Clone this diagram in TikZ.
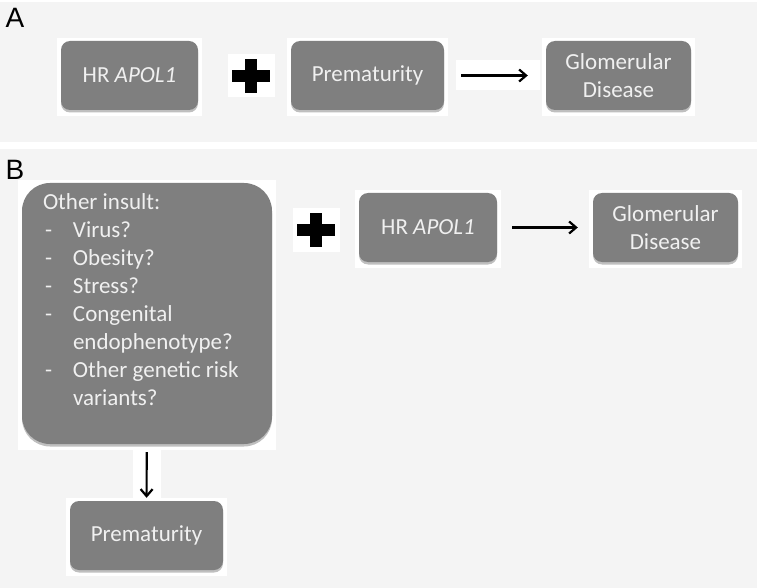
\documentclass[tikz,border=0pt]{standalone}
\usepackage{fontspec}
\setmainfont{Carlito}
\newfontfamily\panelfont{Liberation Sans}
\usepackage{xcolor}
\usetikzlibrary{arrows,arrows.meta,positioning,backgrounds}

\definecolor{boxgray}{HTML}{7F7F7F}
\definecolor{panelgray}{HTML}{F4F4F4}

\begin{document}
\begin{tikzpicture}[x=1pt, y=-1pt,
    box/.style={rounded corners=9pt, fill=boxgray, text=white!94!black, align=center,
      font=\fontsize{23}{28}\selectfont, inner sep=0pt, minimum height=69pt,
      preaction={fill=black, opacity=.25, transform canvas={yshift=-2.5pt}}},
    plussign/.style={fill=white, inner sep=0pt, minimum width=47pt, minimum height=43pt,
      path picture={
        \fill[black] ([xshift=-19pt,yshift=-6pt]path picture bounding box.center)
          rectangle ([xshift=19pt,yshift=6pt]path picture bounding box.center);
        \fill[black] ([xshift=-6pt,yshift=-17pt]path picture bounding box.center)
          rectangle ([xshift=6pt,yshift=17pt]path picture bounding box.center);}},
    panellabel/.style={font=\panelfont\fontsize{28}{28}\selectfont, inner sep=0pt},
    descr/.style={-{Straight Barb[length=7pt,width=12pt]}, line width=2.2pt}
  ]
  \useasboundingbox (0,0) rectangle (760,588);

  % panel A
  \node[panellabel] (labA) at (15,18) {A};
  \node[box, minimum width=137pt] (hrA) at (129.5,75.5) {HR \textit{APOL1}};
  \node[plussign] (plusA) at (251,76) {};
  \node[box, minimum width=153pt] (premA) at (367.5,75.5) {Prematurity};
  \node[box, minimum width=145pt] (glomA) at (618.5,75.5) {Glomerular\\Disease};

  \path[descr]
  (premA) edge[shorten <=17pt, shorten >=18pt] (glomA)
  ;

  % panel B
  \node[panellabel] (labB) at (15,170) {B};
  \node[box, rounded corners=28pt, minimum width=250pt, minimum height=261pt] (insult) at (147,313.5) {};
  \node[anchor=north west, text=white!94!black, inner sep=0pt, align=left,
    font=\fontsize{23}{28}\selectfont] (insultTxt) at ([xshift=21pt,yshift=-7pt]insult.north west)
  {\begin{tabular}{@{}p{30pt}@{}l@{}}
    \multicolumn{2}{@{}l@{}}{Other insult:}\\
    \hspace{2pt}- & Virus?\\
    \hspace{2pt}- & Obesity?\\
    \hspace{2pt}- & Stress?\\
    \hspace{2pt}- & Congenital\\
      & endophenotype?\\
    \hspace{2pt}- & Other genetic risk\\
      & variants?
  \end{tabular}};
  \node[plussign] (plusB) at (316,230) {};
  \node[box, minimum width=138pt] (hrB) at (428,227.5) {HR \textit{APOL1}};
  \node[box, minimum width=145pt] (glomB) at (665.5,227.5) {Glomerular\\Disease};
  \node[box, minimum width=153pt] (premB) at (146.5,535.5) {Prematurity};

  \path[descr]
  (hrB) edge[shorten <=15pt, shorten >=15pt] (glomB)
  (insult) edge[shorten <=8pt, shorten >=3pt] (premB)
  ;

  % grey panels and white patches behind the boxes
  \begin{pgfonlayer}{background}
    \fill[panelgray] (0,2) rectangle (757,142);
    \fill[panelgray] (0,149) rectangle (757,588);
    \foreach \n in {hrA,premA,glomA,insult,hrB,glomB,premB}
      \fill[white] ([xshift=-4pt,yshift=3pt]\n.north west) rectangle ([xshift=4pt,yshift=-6pt]\n.south east);
    \fill[white] ([xshift=12pt,yshift=-15pt]premA.east) rectangle ([xshift=-6pt,yshift=15pt]glomA.west);
    \fill[white] ([xshift=-14pt]insult.south) rectangle ([xshift=14pt,yshift=-4pt]premB.north);
  \end{pgfonlayer}
\end{tikzpicture}
\end{document}
